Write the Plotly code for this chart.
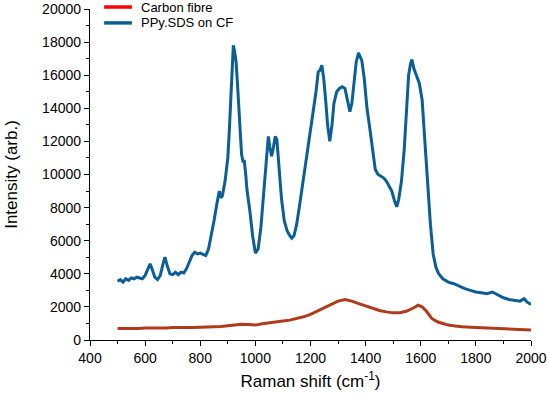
import plotly.graph_objects as go

# PPy.SDS on CF spectrum (Raman shift cm-1, intensity)
ppy_x = [500, 510, 520, 530, 540, 550, 560, 570, 580, 590, 600, 610, 618, 625, 635, 645, 655, 665, 672, 680,
         690, 700, 710, 720, 730, 740, 750, 760, 770, 780, 790, 800, 810, 820, 830, 840, 850, 860, 865, 869,
         875, 880, 890, 900, 905, 910, 915, 920, 925, 930, 935, 940, 945, 950, 955, 960, 965, 970, 980, 990,
         1000, 1010, 1020, 1030, 1040, 1047, 1053, 1059, 1065, 1072, 1078, 1085, 1095, 1105, 1115, 1125, 1132, 1140, 1150, 1160,
         1170, 1180, 1190, 1200, 1210, 1220, 1228, 1235, 1241, 1248, 1255, 1262, 1270, 1278, 1285, 1295, 1305, 1315, 1325, 1333,
         1343, 1350, 1358, 1366, 1374, 1380, 1386, 1395, 1405, 1415, 1425, 1435, 1445, 1455, 1465, 1475, 1485, 1495, 1505, 1513,
         1520, 1530, 1540, 1549, 1556, 1563, 1568, 1575, 1585, 1595, 1605, 1615, 1625, 1635, 1645, 1655, 1665, 1680, 1700, 1720,
         1740, 1760, 1780, 1800, 1820, 1840, 1860, 1880, 1900, 1920, 1940, 1960, 1975, 1985, 2000]
ppy_y = [3550, 3650, 3500, 3700, 3600, 3750, 3700, 3800, 3750, 3700, 3900, 4300, 4600, 4300, 3800, 3650, 3900, 4600, 5000, 4500,
         4000, 3950, 4100, 3950, 4100, 4050, 4300, 4700, 5100, 5300, 5200, 5250, 5150, 5100, 5500, 6300, 7200, 8200, 8800, 9000,
         8600, 8700, 9600, 11000, 12500, 14500, 16500, 17800, 17400, 16800, 15500, 14000, 12500, 11200, 10800, 10800, 10000, 9000, 7800, 6300,
         5250, 5500, 6800, 8800, 11000, 12300, 11600, 11100, 11600, 12300, 12100, 10500, 8500, 7200, 6600, 6300, 6150, 6300, 7000, 8100,
         9200, 10300, 11500, 12600, 13800, 15000, 16200, 16300, 16600, 15800, 14500, 13000, 12000, 13000, 14300, 15000, 15200, 15300, 15200, 14600,
         13800, 14300, 15500, 16800, 17350, 17100, 16900, 15800, 14000, 12800, 11500, 10300, 10000, 9900, 9800, 9600, 9300, 9000, 8400, 8050,
         8500, 9600, 11500, 14500, 16000, 16700, 16950, 16400, 16000, 15500, 14500, 12000, 9000, 7000, 5200, 4400, 4000, 3700, 3500, 3400,
         3250, 3100, 3000, 2900, 2850, 2800, 2900, 2700, 2550, 2450, 2400, 2350, 2500, 2300, 2150]

# Carbon fibre spectrum
cf_x = [500, 525, 550, 575, 600, 625, 650, 675, 700, 725, 750, 775, 800, 825, 850, 875, 900, 925, 950, 975,
        1000, 1025, 1050, 1075, 1100, 1125, 1150, 1175, 1200, 1225, 1250, 1275, 1300, 1325, 1350, 1375, 1400, 1425, 1450, 1475,
        1500, 1525, 1550, 1575, 1590, 1605, 1620, 1640, 1660, 1680, 1700, 1725, 1750, 1800, 1850, 1900, 1950, 2000]
cf_y = [700, 690, 710, 700, 730, 720, 740, 730, 750, 740, 760, 750, 770, 780, 800, 820, 860, 920, 950, 930,
        900, 980, 1050, 1100, 1150, 1200, 1300, 1400, 1550, 1750, 1950, 2150, 2350, 2450, 2350, 2200, 2050, 1900, 1780, 1700,
        1640, 1650, 1750, 1950, 2100, 2000, 1750, 1300, 1100, 1000, 900, 850, 800, 760, 720, 700, 650, 600]

series_names = ["Carbon fibre", "PPy.SDS on CF"]
legend_colors = ["#ff0000", "#0b5e96"]
line_colors = ["#b23a1c", "#0b5e96"]

font = "Liberation Sans, Arial, sans-serif"

fig = go.Figure()
fig.add_trace(go.Scatter(x=cf_x, y=cf_y, mode="lines", name=series_names[0], showlegend=False,
                         line=dict(color=line_colors[0], width=3)))
fig.add_trace(go.Scatter(x=ppy_x, y=ppy_y, mode="lines", name=series_names[1], showlegend=False,
                         line=dict(color=line_colors[1], width=3)))

# Hand-drawn legend (lines + labels) near top-left of plot
legend_y = [1.006, 0.958]
for name, c, ly in zip(series_names, legend_colors, legend_y):
    fig.add_shape(type="line", xref="paper", yref="paper", x0=0.032, x1=0.095, y0=ly, y1=ly,
                  line=dict(color=c, width=3.5))
    fig.add_annotation(xref="paper", yref="paper", x=0.11, y=ly, xanchor="left", yanchor="middle",
                       text=name, showarrow=False, font=dict(family=font, size=13, color="black"))

axis_common = dict(showline=True, linecolor="black", linewidth=1.3, ticks="outside",
                   ticklen=5, tickwidth=1.2, tickcolor="black", showgrid=False, zeroline=False,
                   automargin=False, tickformat="d",
                   tickfont=dict(family=font, size=14, color="black"))

fig.update_layout(
    width=550, height=398,
    margin=dict(l=90, r=19, t=9, b=58, autoexpand=False),
    paper_bgcolor="white", plot_bgcolor="white",
    font=dict(family=font, color="black"),
    xaxis=dict(range=[400, 2000], dtick=200, tick0=400,
               minor=dict(dtick=100, ticks="outside", ticklen=3, tickcolor="black"),
               title=dict(text="Raman shift (cm<sup>-1</sup>)", font=dict(family=font, size=17), standoff=10),
               **axis_common),
    yaxis=dict(range=[0, 20000], dtick=2000, tick0=0,
               minor=dict(dtick=1000, ticks="outside", ticklen=3, tickcolor="black"),
               title=dict(text="Intensity (arb.)", font=dict(family=font, size=17), standoff=20),
               **axis_common),
    showlegend=False,
)

fig.write_html("out.html", config={"displayModeBar": False},
               post_script="document.body.style.margin='0px';")
